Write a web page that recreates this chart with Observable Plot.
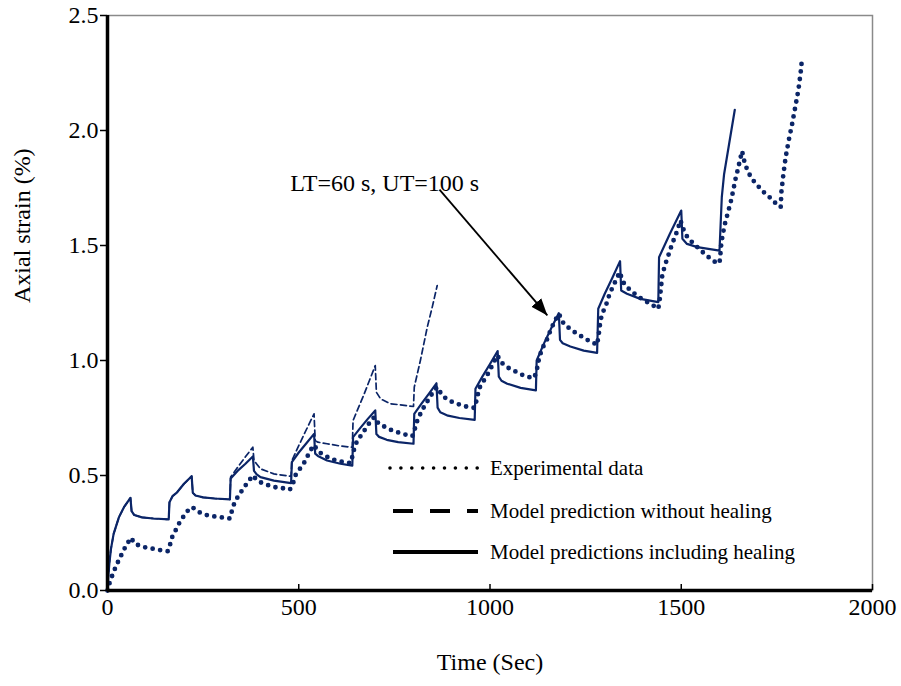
<!DOCTYPE html>
<html><head><meta charset="utf-8">
<script src="https://cdn.jsdelivr.net/npm/d3@7"></script>
<script src="https://cdn.jsdelivr.net/npm/@observablehq/plot@0.6"></script>
<style>
body{margin:0;background:#fff;}
#wrap{position:relative;width:901px;height:686px;font-family:"Liberation Serif","Times New Roman",serif;}
#legend{position:absolute;left:0;top:0;pointer-events:none;}
</style></head><body><div id="wrap"></div>
<script>
// Experimental data [time (s), axial strain (%)]
const experimental = [[0,0],[6,0.036],[14,0.072],[23,0.109],[41,0.171],[51,0.203],[62,0.229],[70,0.205],[86,0.193],[108,0.184],[125,0.18],[143,0.174],[158,0.171],
[163,0.196],[169,0.232],[180,0.268],[191,0.304],[202,0.329],[215,0.358],[222,0.362],[239,0.341],[256,0.329],[274,0.323],[294,0.319],[311,0.314],[320,0.313],
[326,0.351],[333,0.387],[343,0.413],[356,0.446],[370,0.478],[380,0.5],[390,0.481],[404,0.467],[422,0.457],[439,0.449],[457,0.445],[477,0.439],
[486,0.471],[491,0.5],[503,0.529],[515,0.558],[529,0.604],[539,0.632],[555,0.6],[583,0.573],[600,0.565],[618,0.558],[636,0.554],
[646,0.623],[653,0.652],[666,0.681],[677,0.71],[692,0.746],[698,0.754],[709,0.725],[727,0.71],[744,0.696],[762,0.686],[779,0.678],[797,0.671],
[805,0.71],[810,0.739],[818,0.768],[827,0.797],[840,0.833],[851,0.862],[862,0.884],[875,0.848],[892,0.826],[910,0.815],[927,0.804],[945,0.797],[960,0.794],
[967,0.841],[971,0.877],[984,0.913],[997,0.949],[1010,0.993],[1019,1.022],[1032,0.988],[1049,0.967],[1067,0.952],[1084,0.938],[1101,0.928],[1116,0.925],
[1123,0.964],[1128,1.007],[1136,1.051],[1148,1.087],[1158,1.13],[1169,1.171],[1180,1.203],[1193,1.159],[1215,1.13],[1235,1.109],[1254,1.09],[1271,1.076],[1280,1.068],
[1284,1.109],[1289,1.177],[1296,1.213],[1305,1.249],[1312,1.286],[1320,1.317],[1331,1.355],[1339,1.384],[1348,1.341],[1361,1.315],[1376,1.293],[1392,1.273],[1408,1.257],[1424,1.242],[1440,1.225],
[1444,1.268],[1450,1.365],[1456,1.406],[1463,1.442],[1470,1.475],[1476,1.507],[1485,1.543],[1492,1.577],[1498,1.609],[1507,1.565],[1517,1.533],[1533,1.507],[1548,1.483],[1563,1.461],[1579,1.439],[1596,1.42],
[1601,1.435],[1605,1.514],[1613,1.587],[1624,1.655],[1631,1.7],[1642,1.79],[1649,1.838],[1654,1.875],[1659,1.91],[1666,1.858],[1674,1.823],[1684,1.791],[1699,1.762],[1713,1.736],[1729,1.713],[1744,1.688],[1760,1.667],
[1762,1.736],[1767,1.809],[1773,1.884],[1781,1.957],[1790,2.029],[1798,2.101],[1806,2.174],[1812,2.249],[1815,2.3]];

// Model prediction without healing
const withoutHealing = [[0,0],[2,0.06],[5,0.12],[9,0.18],[16,0.246],[30,0.319],[43,0.362],[60,0.403],[63,0.345],[70,0.328],[90,0.318],[120,0.313],[160,0.309],
[162,0.384],[170,0.41],[182,0.427],[200,0.464],[220,0.497],[223,0.425],[230,0.413],[250,0.405],[280,0.4],[320,0.396],
[322,0.493],[340,0.535],[360,0.58],[380,0.623],[383,0.565],[390,0.55],[400,0.529],[435,0.507],[480,0.496],
[482,0.565],[500,0.63],[520,0.7],[540,0.768],[543,0.652],[550,0.645],[574,0.638],[609,0.628],[640,0.623],
[642,0.739],[670,0.85],[700,0.978],[703,0.862],[714,0.833],[740,0.812],[800,0.8],
[802,0.884],[818,1.0],[836,1.145],[849,1.232],[862,1.326]];

// Model predictions including healing
const withHealing = [[0,0],[2,0.06],[5,0.12],[9,0.18],[16,0.246],[30,0.319],[43,0.362],[60,0.403],[63,0.345],[70,0.328],[90,0.318],[120,0.313],[160,0.309],
[162,0.384],[170,0.41],[182,0.427],[200,0.464],[220,0.497],[223,0.425],[230,0.413],[250,0.405],[280,0.4],[320,0.396],
[322,0.487],[340,0.52],[360,0.55],[380,0.583],[383,0.52],[390,0.505],[400,0.493],[435,0.478],[480,0.467],
[482,0.558],[500,0.6],[520,0.64],[540,0.681],[543,0.595],[550,0.585],[574,0.565],[609,0.551],[640,0.543],
[642,0.667],[660,0.705],[680,0.745],[700,0.783],[703,0.68],[710,0.668],[730,0.655],[760,0.645],[800,0.638],
[802,0.768],[820,0.81],[840,0.855],[860,0.901],[863,0.795],[870,0.775],[890,0.76],[920,0.75],[960,0.742],
[962,0.877],[980,0.93],[1000,0.985],[1020,1.041],[1023,0.93],[1030,0.912],[1045,0.899],[1080,0.881],[1120,0.87],
[1122,1.0],[1140,1.07],[1160,1.14],[1180,1.206],[1183,1.09],[1190,1.075],[1210,1.061],[1245,1.043],[1280,1.033],
[1283,1.225],[1300,1.29],[1320,1.36],[1340,1.432],[1343,1.304],[1358,1.29],[1393,1.268],[1440,1.254],
[1442,1.449],[1470,1.55],[1500,1.652],[1503,1.529],[1515,1.507],[1542,1.493],[1600,1.478],
[1606,1.71],[1612,1.81],[1625,1.94],[1640,2.09]];

const xTicks = [0, 500, 1000, 1500, 2000];
const yTicks = [0, 0.5, 1.0, 1.5, 2.0, 2.5];
const xLabel = "Time (Sec)";
const yLabel = "Axial strain (%)";
const annotation = [{t1: 868, v1: 1.743, t2: 1150, v2: 1.196, tx: 478, vx: 1.77, text: "LT=60 s, UT=100 s"}];
const legendItems = [
  {label: "Experimental data", style: "dot"},
  {label: "Model prediction without healing", style: "dash"},
  {label: "Model predictions including healing", style: "solid"}
];

const navy = "#0b2567";
const font = "Liberation Serif, Times New Roman, serif";
const toRows = a => a.map(([t, v]) => ({t, v}));

const chart = Plot.plot({
  width: 901, height: 686,
  marginTop: 15, marginRight: 29, marginBottom: 96, marginLeft: 107,
  style: {fontFamily: font, fontSize: "24px", color: "#000", background: "#fff", overflow: "visible"},
  x: {domain: [0, 2000]},
  y: {domain: [0, 2.5]},
  marks: [
    Plot.frame({stroke: "#8a8a8a", strokeWidth: 1.5}),
    Plot.line(toRows(withoutHealing), {x: "t", y: "v", stroke: navy, strokeWidth: 1.7, strokeDasharray: "6 3.5"}),
    Plot.line(toRows(withHealing), {x: "t", y: "v", stroke: navy, strokeWidth: 2.2}),
    Plot.line(toRows(experimental), {x: "t", y: "v", stroke: navy, strokeWidth: 4.8, strokeDasharray: "0 7.6", strokeLinecap: "round"}),
    Plot.ruleX([0], {stroke: "#000", strokeWidth: 3.5}),
    Plot.ruleY([0], {stroke: "#000", strokeWidth: 3.5}),
    Plot.tickX(xTicks, {x: d => d, insetTop: 569, stroke: "#000", strokeWidth: 1.5}),
    Plot.axisX(xTicks, {tickSize: 0, tickPadding: 7, tickFormat: d => String(d), label: null, fontSize: 24, fontFamily: font}),
    Plot.axisY(yTicks, {tickSize: 7, tickPadding: 2, tickFormat: d3.format(".1f"), label: null, fontSize: 24, fontFamily: font, strokeWidth: 1.5}),
    Plot.text([yLabel], {text: d => d, frameAnchor: "left", dx: -85, rotate: -90, fontSize: 24, fontFamily: font}),
    Plot.text([xLabel], {text: d => d, frameAnchor: "bottom", dy: 79, fontSize: 24, fontFamily: font}),
    Plot.link(annotation, {x1: "t1", y1: "v1", x2: "t2", y2: "v2", stroke: "#000", strokeWidth: 1.8}),
    Plot.text(annotation, {x: "tx", y: "vx", text: "text", textAnchor: "start", fontSize: 24, fontFamily: font, fill: "#000"})
  ]
});

// filled arrowhead on the annotation link
const svgNS = "http://www.w3.org/2000/svg";
const svgEl = chart.tagName.toLowerCase() === "svg" ? chart : chart.querySelector("svg");
const defs = document.createElementNS(svgNS, "defs");
const marker = document.createElementNS(svgNS, "marker");
marker.setAttribute("id", "ahead");
marker.setAttribute("markerUnits", "userSpaceOnUse");
marker.setAttribute("markerWidth", "18");
marker.setAttribute("markerHeight", "14");
marker.setAttribute("viewBox", "0 -7 18 14");
marker.setAttribute("refX", "17");
marker.setAttribute("refY", "0");
marker.setAttribute("orient", "auto");
const mp = document.createElementNS(svgNS, "path");
mp.setAttribute("d", "M0,-6.5L17,0L0,6.5Z");
mp.setAttribute("fill", "#000");
marker.appendChild(mp);
defs.appendChild(marker);
svgEl.insertBefore(defs, svgEl.firstChild);
const linkPath = svgEl.querySelector('g[aria-label="link"] path');
if (linkPath) linkPath.setAttribute("marker-end", "url(#ahead)");

const wrap = document.getElementById("wrap");
wrap.appendChild(chart);

// Legend overlay
const leg = d3.select(wrap).append("svg").attr("id", "legend").attr("width", 901).attr("height", 686);
const rowsY = [468, 511, 552];
legendItems.forEach((it, i) => {
  const y = rowsY[i];
  const ln = leg.append("line").attr("x1", it.style === "dot" ? 390 : 393).attr("x2", 478).attr("y1", y).attr("y2", y).attr("stroke", "#000");
  if (it.style === "dot") ln.attr("stroke-width", 3.6).attr("stroke-dasharray", "0 10.9").attr("stroke-linecap", "round");
  else if (it.style === "dash") ln.attr("stroke-width", 4).attr("stroke-dasharray", "20 17");
  else ln.attr("stroke-width", 4);
  leg.append("text").attr("x", 490).attr("y", y + 7).attr("font-size", 21).attr("font-family", font).attr("fill", "#000").text(it.label);
});
</script>
</body></html>
